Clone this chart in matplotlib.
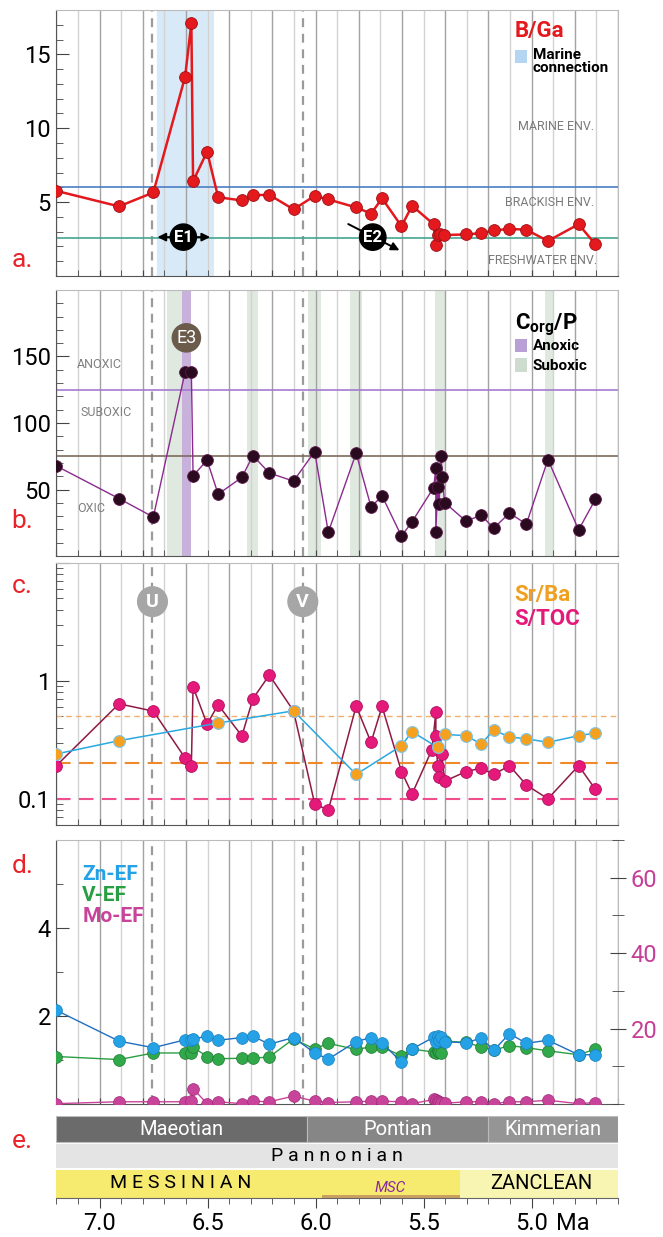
import numpy as np
import matplotlib
matplotlib.use("Agg")
import matplotlib.pyplot as plt
from matplotlib.ticker import MultipleLocator, FixedLocator, NullFormatter
import matplotlib.transforms as mtransforms

plt.rcParams['font.family'] = ['Roboto', 'DejaVu Sans']

# ---------------- data ----------------
# B/Ga
bga_age = [7.20, 6.91, 6.751, 6.604, 6.575, 6.567, 6.502, 6.451, 6.341, 6.290, 6.214,
           6.102, 6.004, 5.941, 5.812, 5.743, 5.692, 5.602, 5.553, 5.453, 5.443, 5.435,
           5.422, 5.406, 5.304, 5.233, 5.175, 5.102, 5.024, 4.924, 4.782, 4.704]
bga_val = [5.76, 4.71, 5.65, 13.48, 17.1, 6.41, 8.42, 5.33, 5.11, 5.47, 5.49,
           4.51, 5.42, 5.18, 4.64, 4.22, 5.25, 3.37, 4.75, 3.50, 2.12, 2.75,
           2.81, 2.77, 2.81, 2.90, 3.08, 3.19, 3.13, 2.37, 3.50, 2.14]

# Corg/P
cp_age = [7.20, 6.91, 6.751, 6.604, 6.575, 6.567, 6.502, 6.451, 6.341, 6.290, 6.214,
          6.102, 6.004, 5.941, 5.812, 5.743, 5.692, 5.602, 5.553, 5.453, 5.443, 5.443,
          5.435, 5.428, 5.418, 5.414, 5.402, 5.304, 5.233, 5.175, 5.102, 5.024, 4.924,
          4.782, 4.704]
cp_val = [67.7, 43.2, 29.3, 138.4, 138.4, 60.4, 72.0, 46.5, 59.1, 75.5, 62.4,
          56.3, 78.5, 17.9, 77.3, 36.9, 45.2, 14.9, 25.8, 51.5, 65.9, 17.9,
          52.0, 39.4, 75.3, 59.1, 40.2, 26.3, 30.6, 21.0, 32.3, 24.0, 72.5,
          19.7, 42.7]

# Sr/Ba
srba_age = [7.20, 6.91, 6.451, 6.102, 5.812, 5.602, 5.553, 5.435, 5.402, 5.304, 5.233,
            5.175, 5.102, 5.024, 4.924, 4.782, 4.704]
srba_val = [0.240, 0.311, 0.439, 0.557, 0.161, 0.282, 0.371, 0.273, 0.352, 0.343, 0.292,
            0.383, 0.334, 0.323, 0.301, 0.343, 0.361]

# S/TOC
stoc_age = [7.20, 6.91, 6.751, 6.604, 6.575, 6.567, 6.502, 6.451, 6.341, 6.290, 6.214,
            6.102, 6.004, 5.941, 5.812, 5.743, 5.692, 5.602, 5.553, 5.461, 5.443, 5.443,
            5.435, 5.428, 5.416, 5.402, 5.304, 5.233, 5.175, 5.102, 5.024, 4.924, 4.782,
            4.704]
stoc_val = [0.191, 0.639, 0.554, 0.222, 0.191, 0.889, 0.430, 0.627, 0.341, 0.705, 1.12,
            0.557, 0.0908, 0.080, 0.611, 0.301, 0.607, 0.170, 0.110, 0.261, 0.544, 0.343,
            0.190, 0.152, 0.240, 0.141, 0.170, 0.182, 0.161, 0.191, 0.131, 0.100, 0.191,
            0.120]

# Enrichment factors
ef_age = [7.20, 6.91, 6.751, 6.604, 6.575, 6.567, 6.502, 6.451, 6.341, 6.290, 6.214,
          6.102, 6.004, 5.941, 5.812, 5.743, 5.692, 5.602, 5.553, 5.453, 5.443, 5.435,
          5.428, 5.418, 5.402, 5.304, 5.233, 5.175, 5.102, 5.024, 4.924, 4.782, 4.704]
zn_ef = [2.13, 1.43, 1.28, 1.46, 1.46, 1.48, 1.54, 1.45, 1.51, 1.54, 1.36,
         1.51, 1.16, 1.02, 1.42, 1.51, 1.39, 0.95, 1.25, 1.52, 1.40, 1.55,
         1.46, 1.52, 1.42, 1.39, 1.50, 1.22, 1.60, 1.38, 1.45, 1.12, 1.12]
v_ef = [1.08, 1.01, 1.16, 1.16, 1.16, 1.29, 1.08, 1.03, 1.04, 1.04, 1.07,
        1.48, 1.25, 1.38, 1.24, 1.30, 1.29, 1.10, 1.25, 1.18, 1.16, 1.20,
        1.18, 1.17, 1.43, 1.40, 1.30, 1.22, 1.33, 1.28, 1.21, 1.12, 1.25]
mo_ef = [0.1, 0.6, 0.6, 0.6, 0.8, 4.1, 0.1, 0.6, 0.1, 0.75, 0.6,
         2.1, 0.75, 0.4, 0.6, 0.75, 0.75, 0.6, 0.1, 1.2, 1.0, 0.8,
         0.6, 0.4, 0.2, 0.6, 0.6, 0.1, 0.6, 0.6, 1.0, 0.1, 0.4]

# Intervals
marine_connection = (6.74, 6.47)
anoxic_band = (6.618, 6.575)
suboxic_bands = [(6.686, 6.618), (6.318, 6.265), (6.033, 5.976), (5.841, 5.784),
                 (5.449, 5.402), (4.939, 4.902)]
event_lines = [6.755, 6.059]

# Stratigraphy
regional_names = ['Maeotian', 'Pontian', 'Kimmerian']
regional_bounds = [7.2, 6.04, 5.2, 4.6]
regional_colors = ['#6b6b6b', '#868686', '#959595']
med_names = ['MESSINIAN', 'ZANCLEAN']
med_bounds = [7.2, 5.33, 4.6]
med_colors = ['#f6ea6f', '#f8f4b2']
msc_span = (5.97, 5.33)

XLIM = (7.2, 4.6)
LEFT, WIDTH = 0.085, 0.847
GRID_DARK, GRID_LIGHT = '#a2a2a2', '#d2d2d2'
LEG_X = 5.078      # left edge of the in-panel legends
LEG_TXT = 4.994    # text start next to legend swatches

fig = plt.figure(figsize=(6.63, 12.37), dpi=100)


def base_axes(rect):
    ax = fig.add_axes(rect)
    ax.set_xlim(*XLIM)
    ax.xaxis.set_major_locator(MultipleLocator(0.2))
    ax.xaxis.set_minor_locator(MultipleLocator(0.1))
    ax.xaxis.set_major_formatter(NullFormatter())
    ax.grid(True, axis='x', which='major', color=GRID_DARK, lw=1.0, zorder=0)
    ax.grid(True, axis='x', which='minor', color=GRID_LIGHT, lw=1.0, zorder=0)
    ax.tick_params(axis='x', which='both', direction='in', length=4, color='#444444',
                   top=False, bottom=True)
    ax.tick_params(axis='y', which='major', direction='in', length=9, color='#444444',
                   labelsize=17, pad=4, right=False)
    ax.tick_params(axis='y', which='minor', direction='in', length=5, color='#444444',
                   right=False)
    for s in ['top', 'right']:
        ax.spines[s].set_color('#bbbbbb')
    for s in ['left', 'bottom']:
        ax.spines[s].set_color('#555555')
    ax.set_axisbelow(True)
    for xe in event_lines:
        ax.axvline(xe, color='white', lw=7, zorder=1)
        ax.axvline(xe, color='#9a9a9a', lw=1.6, ls=(0, (4, 3)), zorder=1.5)
    return ax


def swatch(ax, y0, y1, color):
    ax.add_patch(plt.Rectangle((LEG_X, y0), 5.02 - LEG_X, y1 - y0, fc=color, ec='none', zorder=3))


# ---------------- a. B/Ga ----------------
axa = base_axes([LEFT, 0.7769, WIDTH, 0.2150])
axa.set_ylim(0, 18)
axa.yaxis.set_major_locator(FixedLocator([5, 10, 15]))
axa.yaxis.set_minor_locator(MultipleLocator(1))
axa.axvspan(*marine_connection, color='#d8eaf8', zorder=0.5, lw=0)
axa.axhline(6, color='#4a7fc4', lw=1.2, zorder=2)
axa.axhline(2.6, color='#45a592', lw=1.2, zorder=2)
axa.plot(bga_age, bga_val, color='#e3191d', lw=1.8, marker='o', ms=8.5,
         mfc='#e3191d', mec='#9e1014', mew=0.6, zorder=5)
axa.text(4.886, 10.1, 'MARINE ENV.', color='#7a7a7a', fontsize=9, ha='center', va='center')
axa.text(4.916, 5.0, 'BRACKISH ENV.', color='#7a7a7a', fontsize=9, ha='center', va='center')
axa.text(4.95, 1.05, 'FRESHWATER ENV.', color='#7a7a7a', fontsize=9, ha='center', va='center')
axa.text(LEG_X, 16.6, 'B/Ga', color='#e3191d', fontsize=16, fontweight='bold', ha='left', va='center')
swatch(axa, 14.4, 15.3, '#b5d6f2')
axa.text(LEG_TXT, 14.5, 'Marine\nconnection', color='black', fontsize=11, fontweight='bold',
         ha='left', va='center', linespacing=0.95)
axa.annotate('', xy=(6.745, 2.63), xytext=(6.475, 2.63),
             arrowprops=dict(arrowstyle='<|-|>', color='black', lw=1.4, mutation_scale=12), zorder=6)
axa.text(6.612, 2.63, 'E1', color='white', fontsize=12, fontweight='bold', ha='center', va='center',
         bbox=dict(boxstyle='circle,pad=0.22', fc='black', ec='black'), zorder=7)
axa.annotate('', xy=(5.60, 1.65), xytext=(5.86, 3.6),
             arrowprops=dict(arrowstyle='-|>', color='black', lw=1.4, mutation_scale=12), zorder=6)
axa.text(5.735, 2.63, 'E2', color='white', fontsize=12, fontweight='bold', ha='center', va='center',
         bbox=dict(boxstyle='circle,pad=0.22', fc='black', ec='black'), zorder=7)

# ---------------- b. Corg/P ----------------
axb = base_axes([LEFT, 0.5505, WIDTH, 0.2151])
axb.set_ylim(0, 200)
axb.yaxis.set_major_locator(FixedLocator([50, 100, 150]))
axb.yaxis.set_minor_locator(MultipleLocator(10))
for b0, b1 in suboxic_bands:
    axb.axvspan(b0, b1, color='#dfe9e0', lw=0, zorder=0.5)
axb.axvspan(*anoxic_band, color='#c8b2dc', lw=0, zorder=0.6)
axb.axhline(125, color='#a57ad0', lw=1.2, zorder=2)
axb.axhline(75, color='#7d6b5c', lw=1.2, zorder=2)
axb.plot(cp_age, cp_val, color='#8a2a8c', lw=1.0, marker='o', ms=8.5,
         mfc='#2a0a1f', mec='#5a1a4a', mew=0.6, zorder=5)
axb.text(7.0, 144, 'ANOXIC', color='#808080', fontsize=9, ha='center', va='center')
axb.text(6.97, 108, 'SUBOXIC', color='#808080', fontsize=9, ha='center', va='center')
axb.text(7.04, 36, 'OXIC', color='#808080', fontsize=9, ha='center', va='center')
axb.text(6.598, 164, 'E3', color='white', fontsize=13, ha='center', va='center',
         bbox=dict(boxstyle='circle,pad=0.22', fc='#6b5b4b', ec='#6b5b4b'), zorder=7)
axb.text(LEG_X, 174, r'C$_{\mathregular{org}}$/P', color='black', fontsize=16, fontweight='bold',
         ha='left', va='center')
swatch(axb, 153.5, 163, '#b89fd6')
swatch(axb, 138.6, 148.7, '#cddccf')
axb.text(LEG_TXT, 157.5, 'Anoxic', color='black', fontsize=11, fontweight='bold', ha='left', va='center')
axb.text(LEG_TXT, 143, 'Suboxic', color='black', fontsize=11, fontweight='bold', ha='left', va='center')

# ---------------- c. Sr/Ba and S/TOC ----------------
axc = base_axes([LEFT, 0.3331, WIDTH, 0.2118])
axc.set_yscale('log')
axc.set_ylim(0.06, 10)
axc.yaxis.set_major_locator(FixedLocator([0.1, 1, 10]))
axc.set_yticklabels(['0.1', '1', ''])
axc.yaxis.set_minor_locator(FixedLocator([0.07, 0.08, 0.09] + list(np.arange(0.2, 1.0, 0.1))
                                         + list(np.arange(2, 10, 1.0))))
axc.yaxis.set_minor_formatter(NullFormatter())
axc.axhline(0.5, color='#f3ae6e', lw=1.0, ls=(0, (4, 3)), zorder=2)
axc.axhline(0.2, color='#ef8a2a', lw=1.5, ls=(0, (7, 4)), zorder=2)
axc.axhline(0.1, color='#ef4f8c', lw=1.5, ls=(0, (7, 4)), zorder=2)
axc.plot(stoc_age, stoc_val, color='#8e1a45', lw=1.1, marker='o', ms=8.5,
         mfc='#e5197a', mec='#b01060', mew=0.6, zorder=5)
axc.plot(srba_age, srba_val, color='#2aa8e0', lw=1.1, marker='o', ms=8.5,
         mfc='#f5a01e', mec='#7cc6ea', mew=0.8, zorder=6)
for xe, lab in zip(event_lines, ['U', 'V']):
    axc.text(xe, 4.7, lab, color='white', fontsize=14, fontweight='bold', ha='center', va='center',
             bbox=dict(boxstyle='circle,pad=0.3', fc='#a6a6a6', ec='#a6a6a6'), zorder=7)
axc.text(LEG_X, 5.3, 'Sr/Ba', color='#f0a020', fontsize=16, fontweight='bold', ha='left', va='center')
axc.text(LEG_X, 3.35, 'S/TOC', color='#e5197a', fontsize=16, fontweight='bold', ha='left', va='center')

# ---------------- d. enrichment factors ----------------
axd = base_axes([LEFT, 0.1075, WIDTH, 0.2134])
axd.set_ylim(0, 6)
axd.yaxis.set_major_locator(FixedLocator([2, 4]))
axd.yaxis.set_minor_locator(FixedLocator([1, 3, 5]))
axr = axd.twinx()
axr.set_ylim(0, 70)
axr.set_xlim(*XLIM)
axr.yaxis.set_major_locator(FixedLocator([20, 40, 60]))
axr.yaxis.set_minor_locator(FixedLocator([0, 10, 30, 50, 70]))
axr.tick_params(axis='y', which='major', direction='inout', length=12, color='#444444',
                labelsize=17, labelcolor='#c43f98', pad=3)
axr.tick_params(axis='y', which='minor', direction='inout', length=8, color='#444444')
for s in axr.spines.values():
    s.set_visible(False)
axd.plot(ef_age, v_ef, color='#2a9e42', lw=1.0, marker='o', ms=8.5,
         mfc='#31a84a', mec='#1f7a34', mew=0.5, zorder=5)
axd.plot(ef_age, zn_ef, color='#1f6fc0', lw=1.0, marker='o', ms=8.5,
         mfc='#25a2e6', mec='#1a80c0', mew=0.5, zorder=6)
axr.plot(ef_age, mo_ef, color='#c8449a', lw=1.0, marker='o', ms=8.5,
         mfc='#c8449a', mec='#a02a78', mew=0.5, zorder=5)
axd.text(7.08, 5.22, 'Zn-EF', color='#25a2e6', fontsize=15, fontweight='bold', ha='left', va='center')
axd.text(7.08, 4.75, 'V-EF', color='#2a9e42', fontsize=15, fontweight='bold', ha='left', va='center')
axd.text(7.08, 4.27, 'Mo-EF', color='#c8449a', fontsize=15, fontweight='bold', ha='left', va='center')

# ---------------- e. stratigraphy ----------------
axe = fig.add_axes([LEFT, 0.0315, WIDTH, 0.0666])
axe.set_xlim(*XLIM)
axe.set_ylim(0, 82)
for s in ['top', 'right', 'left']:
    axe.spines[s].set_visible(False)
axe.spines['bottom'].set_color('#666666')
axe.set_yticks([])
axe.xaxis.set_major_locator(FixedLocator([7.0, 6.5, 6.0, 5.5, 5.0]))
axe.set_xticklabels(['7.0', '6.5', '6.0', '5.5', '5.0'])
axe.xaxis.set_minor_locator(MultipleLocator(0.1))
axe.tick_params(axis='x', which='major', direction='out', length=7, color='#444444',
                labelsize=17, pad=3)
axe.tick_params(axis='x', which='minor', direction='out', length=4, color='#444444')
xlab_y = axe.get_xticklabels()[0]
axe.text(4.81, 0, 'Ma', fontsize=17, ha='center', va='top',
         transform=mtransforms.blended_transform_factory(axe.transData, axe.transAxes)
         + mtransforms.ScaledTranslation(0, -10 / 72, fig.dpi_scale_trans))

for i, name in enumerate(regional_names):
    x0, x1 = regional_bounds[i], regional_bounds[i + 1]
    axe.add_patch(plt.Rectangle((x0, 55.5), x1 - x0, 26.5, fc=regional_colors[i],
                                ec='#bbbbbb', lw=0.8))
    axe.text((x0 + x1) / 2, 68.5, name, color='white', fontsize=14.5, ha='center', va='center')
axe.add_patch(plt.Rectangle((XLIM[0], 30), XLIM[1] - XLIM[0], 23.5, fc='#e4e4e4', ec='none'))
axe.text(5.9, 41.5, 'P a n n o n i a n', color='black', fontsize=14, ha='center', va='center')
for i, name in enumerate(med_names):
    x0, x1 = med_bounds[i], med_bounds[i + 1]
    axe.add_patch(plt.Rectangle((x0, 0), x1 - x0, 28, fc=med_colors[i], ec='none'))
axe.text(6.625, 14.5, 'M E S S I N I A N', color='black', fontsize=14, ha='center', va='center')
axe.text(4.955, 14.5, 'ZANCLEAN', color='black', fontsize=14.5, ha='center', va='center')
axe.add_patch(plt.Rectangle((msc_span[0], 0), msc_span[1] - msc_span[0], 3.5,
                            fc='#c9a060', ec='none'))
axe.text(5.655, 10, 'MSC', color='#8a2aa0', fontsize=11, style='italic', ha='center', va='center')

# panel letters
for lab, yy in [('a.', 0.790), ('b.', 0.579), ('c.', 0.526), ('d.', 0.300), ('e.', 0.078)]:
    fig.text(0.034, yy, lab, color='#e8232a', fontsize=19, ha='center', va='center')

fig.savefig('out.png', dpi=100)
